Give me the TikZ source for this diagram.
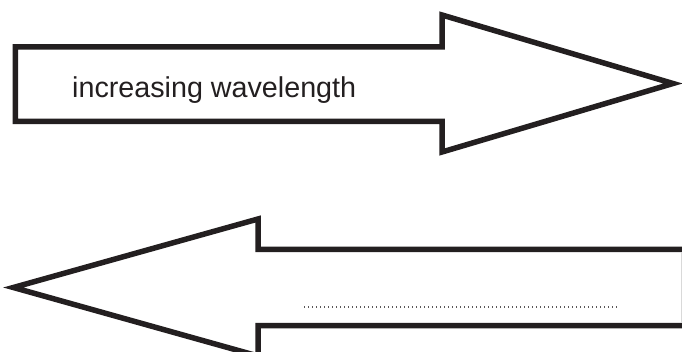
\documentclass[tikz,border=0pt]{standalone}
\usepackage{fontspec}
\setmainfont{Liberation Sans}
\definecolor{ink}{HTML}{231F20}
\begin{document}
\begin{tikzpicture}[x=1pt,y=-1pt,
  arrowshape/.style={draw=ink,line width=5.5pt,line join=miter,fill=white},
  label/.style={anchor=base west,inner sep=0pt,text=ink,font=\fontsize{28.7}{34}\selectfont},
  dotline/.style={draw=ink!75,line width=1.1pt,dash pattern=on 1pt off 3pt}]
\useasboundingbox (0,0) rectangle (682,352);
\clip (0,0) rectangle (682,352);
% top arrow (pointing right)
\draw[arrowshape] (15.3,47) -- (442,47) -- (442,15) -- (673,83.5) -- (442,152) -- (442,121.5) -- (15.3,121.5) -- cycle;
\node[label] (t1) at (72,98) {increasing wavelength};
% bottom arrow (pointing left)
\draw[arrowshape] (700,249.5) -- (258,249.5) -- (258,219) -- (13.4,287.5) -- (258,356) -- (258,325.5) -- (700,325.5);
\draw[gray!30,line width=0.8pt] (681,252) -- (681,323);
\coordinate (d1) at (304,307);
\coordinate (d2) at (620,307);
\draw[dotline] (d1) -- (d2);
\end{tikzpicture}
\end{document}
